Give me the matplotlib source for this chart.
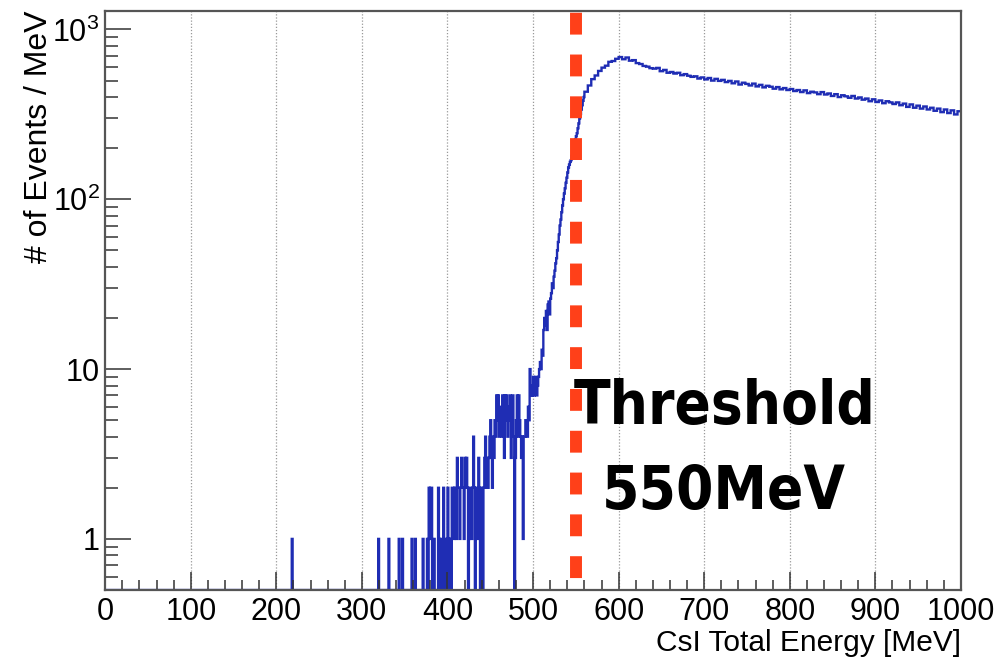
import numpy as np
import matplotlib
matplotlib.use("Agg")
import matplotlib.pyplot as plt
from matplotlib.ticker import FixedLocator, MultipleLocator, NullFormatter

plt.rcParams['font.family'] = ['Liberation Sans', 'DejaVu Sans']
plt.rcParams['mathtext.fontset'] = 'custom'
plt.rcParams['mathtext.rm'] = 'Liberation Sans'

# isolated low-energy entries, 1 MeV bins (everything else below 480 MeV is empty)
spike_mev = [218, 319, 331, 343, 347, 358, 362, 371, 376, 378, 379, 380, 381, 384,
             389, 390, 393, 395, 398, 400, 401, 403, 405, 406, 407, 408, 409, 410,
             411, 412, 413, 414, 415, 416, 417, 418, 419, 420, 421, 422, 423, 425,
             426, 427, 428, 429, 430, 431, 433, 434, 435, 436, 437, 439, 440, 442,
             443, 444, 445, 446, 447, 448, 449, 450, 451, 452, 453, 454, 455, 456,
             457, 458, 459, 460, 461, 462, 463, 464, 465, 466, 467, 468, 469, 470,
             471, 472, 473, 474, 475, 476, 477, 479]
spike_counts = [1, 1, 1, 1, 1, 1, 1, 1, 1, 2, 1, 2, 2, 1,
                2, 1, 1, 2, 1, 2, 1, 1, 2, 2, 1, 2, 2, 1,
                3, 2, 2, 1, 2, 3, 2, 2, 1, 3, 2, 3, 2, 1,
                2, 2, 1, 2, 4, 2, 2, 2, 1, 3, 2, 1, 2, 2,
                3, 4, 2, 3, 2, 3, 4, 5, 3, 2, 4, 3, 5, 4,
                7, 5, 7, 4, 5, 6, 4, 7, 5, 3, 7, 5, 7, 4,
                6, 5, 7, 3, 5, 7, 4, 3]

# rising edge, 1 MeV bins from 480 to 559 MeV
rise_counts = [5, 7, 4, 7, 5, 4, 3, 4, 1, 4,
               4, 5, 4, 4, 6, 5, 10, 7, 8, 7,
               9, 7, 8, 9, 7, 8, 9, 10, 11, 10,
               13, 12, 17, 20, 18, 22, 17, 24, 25, 21,
               26, 28, 32, 30, 35, 38, 42, 45, 50, 56,
               62, 70, 76, 84, 92, 100, 108, 116, 125, 134,
               144, 154, 160, 166, 170, 180, 192, 205, 215, 225,
               235, 245, 262, 280, 300, 318, 338, 358, 380, 400]

# plateau, 4 MeV bins from 560 to 1000 MeV
plateau_counts = [430, 468, 510, 536, 570, 596, 612, 645, 652, 672,
                  688, 668, 684, 655, 660, 634, 626, 610, 604, 592,
                  588, 594, 568, 578, 556, 562, 550, 556, 538, 546,
                  534, 526, 530, 514, 522, 508, 518, 500, 512, 498,
                  505, 490, 498, 482, 494, 474, 486, 478, 468, 480,
                  462, 472, 456, 466, 460, 448, 458, 444, 452, 440,
                  446, 434, 440, 428, 438, 422, 430, 426, 416, 428,
                  414, 420, 406, 416, 400, 410, 404, 396, 406, 392,
                  398, 386, 392, 378, 388, 374, 382, 368, 378, 372,
                  364, 372, 358, 366, 350, 362, 346, 356, 342, 352,
                  338, 346, 332, 342, 326, 338, 322, 334, 316, 330]

threshold = 550
ytick_vals = [1, 10, 100, 1000]
ytick_labels = ['1', '10', '$10^{2}$', '$10^{3}$']
ymin, ymax = 0.5, 1285

edges = np.concatenate([np.arange(0, 560, 1), np.arange(560, 1001, 4)])
counts = np.zeros(560)
counts[spike_mev] = spike_counts
counts[480:560] = rise_counts
counts = np.concatenate([counts, plateau_counts])
shown = np.where(counts > 0, counts, ymin)

fig = plt.figure(figsize=(10.02, 6.58), dpi=100)
ax = fig.add_axes([0.105, 0.1033, 0.854, 0.880])

ax.stairs(shown, edges, color='#1f2db4', lw=1.7, baseline=None)

ax.axvline(threshold, color='#ff4019', lw=8.6,
           linestyle=(2.5, (1.83, 1.67)), dash_capstyle='butt')

ax.set_yscale('log')
ax.set_xlim(0, 1000)
ax.set_ylim(ymin, ymax)

ax.xaxis.set_major_locator(MultipleLocator(100))
ax.xaxis.set_minor_locator(MultipleLocator(20))
ax.yaxis.set_major_locator(FixedLocator(ytick_vals))
ax.set_yticklabels(ytick_labels)
minor_y = [m * 10.0 ** e for e in range(-1, 3) for m in range(2, 10)]
ax.yaxis.set_minor_locator(FixedLocator(minor_y))
ax.yaxis.set_minor_formatter(NullFormatter())

ax.tick_params(axis='x', which='major', direction='in', length=13, width=1.1,
               color='#333333', labelsize=22, pad=5)
ax.tick_params(axis='x', which='minor', direction='in', length=7, width=1.1,
               color='#333333')
ax.tick_params(axis='y', which='major', direction='in', length=19, width=1.1,
               color='#333333', labelsize=22, pad=4)
ax.tick_params(axis='y', which='minor', direction='in', length=9.5, width=1.1,
               color='#333333')

for s in ax.spines.values():
    s.set_color('#555555')
    s.set_linewidth(1.6)

for gx in range(100, 1000, 100):
    ax.axvline(gx, color='#999999', lw=0.9, linestyle=(0, (1, 1.5)), zorder=0)

ax.set_xlabel('CsI Total Energy [MeV]', fontsize=21.5, loc='right')
ax.set_ylabel('# of Events / MeV', fontsize=23, loc='top')
ax.xaxis.set_label_coords(1.0, -0.067)
ax.yaxis.set_label_coords(-0.06, 1.0)

bold = dict(family=['Liberation Sans Narrow', 'DejaVu Sans'], weight='bold',
            stretch='condensed', fontsize=43, color='black',
            ha='center', va='center')
ax.text(0.724, 0.316, 'Threshold', transform=ax.transAxes, **bold)
ax.text(0.723, 0.168, '550MeV', transform=ax.transAxes, **bold)

fig.savefig('out.png', dpi=100, facecolor='white')
